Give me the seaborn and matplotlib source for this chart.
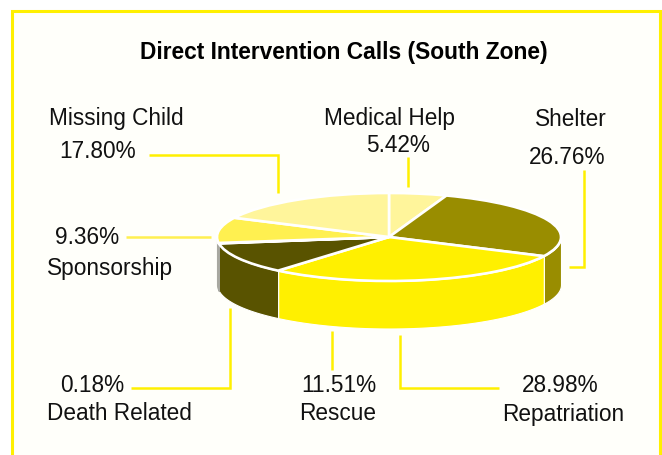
import numpy as np
import seaborn as sns
import matplotlib.pyplot as plt

categories = ['Medical Help', 'Shelter', 'Repatriation', 'Rescue', 'Death Related', 'Sponsorship', 'Missing Child']
shares = [5.42, 26.76, 28.98, 11.51, 0.18, 9.36, 17.80]
top_colors = ['#FFF59B', '#998D00', '#FFF000', '#595300', '#A8A8A0', '#FFF050', '#FFF59B']
wall_colors = ['#FFF59B', '#998D00', '#FFF000', '#595300', '#A8A8A0', '#A8A8A0', '#FFF59B']
title = 'Direct Intervention Calls (South Zone)'

# label centres in pixels: name then percentage
name_pos = [(390, 119), (571, 119), (563, 414), (338, 414), (119, 414), (110, 269), (116, 119)]
pct_pos = [(398, 146), (567, 157), (560, 386), (339, 386), (92, 386), (87, 238), (98, 151)]

# leader lines in pixels
leaders = [
    ([407.5, 407.5], [157, 187], '#FFF000'),
    ([583.5, 583.5, 569], [170, 266.5, 266.5], '#FFF000'),
    ([399.5, 399.5, 499], [335, 387.5, 387.5], '#FFF000'),
    ([331.5, 331.5], [331, 370], '#FFF000'),
    ([229.5, 229.5, 131], [308, 387.5, 387.5], '#FFF000'),
    ([126, 211], [236.5, 236.5], '#FFF050'),
    ([149, 277.5, 277.5], [154.5, 154.5, 193], '#FFF000'),
]

sns.set_theme(style='white')
plt.rcParams['font.family'] = ['Liberation Sans', 'DejaVu Sans']

fig = plt.figure(figsize=(6.62, 4.55), dpi=100, facecolor='white')

# background panel, open at the bottom
bg = fig.add_axes([0, 0, 1, 1])
bg.set_xlim(0, 662)
bg.set_ylim(455, 0)
bg.axis('off')
bg.fill_between([11.5, 659.5], 10, 455, color='#FFFFFA', lw=0)
bg.plot([11.5, 11.5, 659.5, 659.5], [455, 10.5, 10.5, 455], color='#FFF000', lw=2.2, solid_joinstyle='miter')

for xs, ys, c in leaders:
    bg.plot(xs, ys, color=c, lw=1.8, solid_joinstyle='miter', solid_capstyle='butt')

bg.text(344, 52, title, ha='center', va='center', fontsize=16.4, fontweight='bold', color='black')
for name, share, np_, pp in zip(categories, shares, name_pos, pct_pos):
    bg.text(np_[0], np_[1], name, ha='center', va='center', fontsize=16.3, color='#111111')
    bg.text(pp[0], pp[1], f'{share:.2f}%', ha='center', va='center', fontsize=16.3, color='#111111')

# pie axes: unit circle squashed to 344x88 px, wall 47.5 px deep
depth = 47.5 / 44
ax = fig.add_axes([217 / 662, 1 - 328.5 / 455, 344 / 662, 135.5 / 455])
ax.patch.set_alpha(0)

# side walls from the same shares, front half only
edges = np.cumsum([0] + shares) / sum(shares) * 2 * np.pi
for start, end, c in zip(edges[:-1], edges[1:], wall_colors):
    lo, hi = max(start, np.pi / 2), min(end, 3 * np.pi / 2)
    if hi <= lo:
        continue
    t = np.linspace(lo, hi, 60)
    # the sliver walls on the far left stay grey, a white edge would hide them
    edge = c if c == '#A8A8A0' else 'white'
    ax.fill_between(np.sin(t), np.cos(t) - depth, np.cos(t), facecolor=c, edgecolor=edge, lw=0.8, clip_on=False)

ax.pie(shares, colors=sns.color_palette(top_colors), startangle=90, counterclock=False,
       wedgeprops={'edgecolor': 'white', 'linewidth': 1.9, 'clip_on': False})
ax.set_aspect('auto')
ax.set_xlim(-1, 1)
ax.set_ylim(-1 - depth, 1)
ax.axis('off')

fig.savefig('out.png', dpi=100)
